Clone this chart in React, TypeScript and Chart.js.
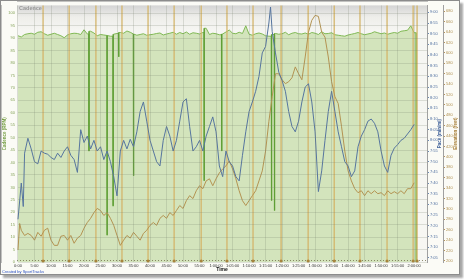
import React, { useEffect, useRef } from "react";
import { Chart, registerables } from "chart.js";

Chart.register(...registerables);

// ---- data (time in minutes) ----
const cadenceRpm = [
  91.0, 90.5, 91.5, 91.8, 92.0, 91.6, 92.4, 92.6, 91.8, 91.2,
  91.6, 92.0, 91.5, 91.0, 90.2, 91.3, 91.8, 92.0, 91.9, 91.5,
  93.4, 91.7, 92.8, 92.1, 91.0, 91.5, 91.3, 91.1, 90.8, 91.6,
  91.9, 92.3, 92.0, 92.9, 92.4, 91.7, 91.2, 91.5, 91.8, 91.2,
  91.4, 91.6, 91.9, 92.1, 91.3, 91.7, 92.0, 92.4, 91.6, 92.3,
  91.8, 92.5, 91.6, 92.2, 92.0, 91.7, 92.3, 94.0, 91.5, 92.0,
  91.8, 91.4, 91.7, 92.5, 93.3, 92.0, 91.8, 92.4, 91.9, 95.0,
  91.6, 91.2, 91.8, 92.1, 91.7, 91.0, 90.8, 91.5, 91.9, 91.6,
  91.8, 92.4, 91.4, 92.0, 92.3, 91.8, 91.7, 92.1, 91.6, 92.3,
  92.0, 91.5, 92.6, 91.8, 91.9, 92.2, 91.4, 91.2, 91.0, 90.8,
  91.3, 91.6, 91.9, 92.3, 91.8, 91.4, 91.7, 92.0, 92.6, 92.2,
  91.8, 92.1, 91.6, 92.0, 92.3, 92.0, 92.8, 93.0, 93.2, 95.0,
  92.2,
];
const cadenceEndMin = 120.6;

const spikeMin = [21.5, 27.0, 28.8, 30.5, 35.0, 56.4, 61.7, 76.8, 77.7];
const spikeRpm = [44.6, 10.8, 22.7, 82.5, 34.7, 32.7, 44.6, 24.7, 20.7];

const paceMin = [
  0, 1, 1.6, 2, 3, 4, 5, 6, 7, 8, 9, 10, 11, 12, 13, 14, 15, 16, 17, 18, 19, 20,
  21, 22, 23, 24, 25, 26, 27, 28, 29, 30, 31, 32, 33, 34, 35, 36, 37, 38, 39, 40,
  41, 42, 43, 44, 45, 46, 47, 48, 49, 50, 51, 52, 53, 54, 55, 56, 57, 58, 59, 60,
  61, 62, 63, 64, 65, 66, 67, 68, 69, 70, 71, 72, 73, 74, 75, 76, 76.5, 77, 78, 79, 80,
  81, 82, 83, 84, 85, 86, 87, 88, 89, 90, 91, 92, 93, 94, 95, 96, 97, 98, 99, 100,
  101, 102, 103, 104, 105, 106, 107, 108, 109, 110, 111, 112, 113, 114, 115, 116, 117, 118, 119, 120,
];
// pace in seconds per mile
const paceSec = [
  443, 460, 449, 474, 481, 476, 470, 469, 475, 474, 473.5, 472, 471, 474, 472, 475, 477, 473, 471, 465, 485, 479,
  482, 476, 480, 475, 477, 471, 475, 470, 463, 454, 475, 480, 476, 480.5, 477, 484, 493.5, 498, 489, 480,
  475, 470, 468, 480, 486.5, 482, 475, 480, 489, 498, 499.5, 486.5, 475, 477, 480, 475, 482, 486.5, 491, 484,
  468, 463, 475, 470, 468, 463, 461, 473, 484, 493.5, 498, 503, 510, 521, 524, 535, 542.5, 531, 521, 512, 508,
  503, 493.5, 486.5, 484, 489, 498, 505, 506.5, 498, 484, 456, 465.7, 480, 493.5, 503, 493.5, 484, 477, 470, 468,
  463, 465.7, 477, 482, 485, 489, 490, 488, 484, 475, 468, 465, 473, 476.4, 478, 480, 481, 483, 485, 487.5,
];

const elevMin = [
  0, 0.5, 1, 2, 3, 4, 5, 6, 7, 8, 9, 10, 11, 12, 13, 14, 15, 16, 17, 18, 19, 20,
  21, 22, 23, 24, 25, 26, 27, 28, 29, 30, 31, 32, 33, 34, 35, 36, 37, 38, 39, 40,
  41, 42, 43, 44, 45, 46, 47, 48, 49, 50, 51, 52, 53, 54, 55, 56, 57, 58, 59, 60,
  61, 62, 63, 64, 65, 66, 67, 68, 69, 70, 71, 72, 73, 74, 75, 76, 77, 78, 79, 80,
  81, 82, 83, 84, 85, 86, 87, 88, 89, 90, 91, 92, 93, 94, 95, 96, 97, 98, 99, 100,
  101, 102, 103, 104, 105, 106, 107, 108, 109, 110, 111, 112, 113, 114, 115, 116, 117, 118, 119, 120,
];
// elevation in feet
const elevFt = [
  221, 272, 259, 249, 253, 249, 240, 255, 247.5, 259, 263, 240, 230, 230, 247.5, 249, 240, 249, 234, 244, 249, 263,
  274, 282, 293, 301, 297, 287.5, 293, 282, 268.5, 249, 230, 240, 249, 244, 255, 247.5, 240, 253, 259, 268.5,
  274, 268.5, 282, 287.5, 282, 293, 287.5, 297, 306.6, 301, 316, 325.6, 320, 335, 344.7, 339, 354, 358, 344.7, 358,
  369.4, 377, 382.8, 392.3, 377, 358, 335, 316, 306.6, 316, 325.6, 335, 354, 373.2, 411.3, 468.5, 516, 560, 560, 548.5,
  541, 544.7, 552.3, 573.2, 560, 548.5, 592.3, 640, 662.8, 672.3, 670.4, 640, 630.4, 592.3, 544.7, 516, 502.8, 459, 411.3, 373.2,
  354, 339, 331.3, 335, 325.6, 335, 329.4, 335, 329.4, 331.3, 325.6, 335, 329.4, 333.2, 329.4, 335, 329.4, 339, 339, 350.4,
];

const lapMin = [7.6, 15.5, 23.6, 31.5, 39.4, 47.3, 55.5, 63.3, 71.2, 79.7, 87.9, 95.8, 103.6, 111.8, 119.7, 120.9];

// ---- formatting ----
const FONT = "'Liberation Sans', Arial, sans-serif";
const fmtTime = (v: number) => {
  const m = Math.round(v);
  if (m < 60) return `${m}:00`;
  const h = Math.floor(m / 60);
  return `${h}:${String(m % 60).padStart(2, "0")}:00`;
};
const fmtPace = (v: number) => {
  const s = Math.round(v);
  return `${Math.floor(s / 60)}:${String(s % 60).padStart(2, "0")}`;
};

type Pt = { x: number; y: number | null };

function spikePoints(): Pt[] {
  const pts: Pt[] = [];
  spikeMin.forEach((t, k) => {
    const prev = cadenceRpm[Math.floor(t)];
    const next = cadenceRpm[Math.min(Math.ceil(t), cadenceRpm.length - 1)];
    pts.push({ x: t - 0.03, y: prev });
    pts.push({ x: t, y: spikeRpm[k] });
    pts.push({ x: t + 0.03, y: next });
    pts.push({ x: t + 0.04, y: null });
  });
  return pts;
}

function buildCadence(): Pt[] {
  const pts: Pt[] = cadenceRpm.map((v, i) => ({ x: i, y: v }));
  spikePoints().forEach((p) => {
    if (p.y !== null) pts.push(p);
  });
  pts.push({ x: cadenceEndMin, y: cadenceRpm[cadenceRpm.length - 1] });
  pts.push({ x: cadenceEndMin + 0.05, y: 0 });
  pts.sort((a, b) => a.x - b.x);
  return pts;
}

const bgPlugin = {
  id: "bgPlugin",
  beforeDraw(chart: any) {
    const { ctx, chartArea: a, width, height } = chart;
    ctx.save();
    ctx.fillStyle = "#fbfbf6";
    ctx.fillRect(0, 0, width, height);
    const g = ctx.createLinearGradient(0, a.top, 0, a.bottom);
    g.addColorStop(0, "#d4d4d4");
    g.addColorStop(0.045, "#eeeeea");
    g.addColorStop(0.1, "#f6f6f3");
    g.addColorStop(1, "#f7f7f3");
    ctx.fillStyle = g;
    ctx.fillRect(a.left, a.top, a.right - a.left, a.bottom - a.top);
    ctx.restore();
  },
  afterDatasetDraw(chart: any, args: any) {
    if (args.index !== 3) return;
    const { ctx, chartArea: a, scales } = chart;
    ctx.save();
    ctx.strokeStyle = "rgba(110,105,70,0.75)";
    ctx.lineWidth = 1;
    ctx.setLineDash([1, 2]);
    ctx.beginPath();
    ctx.moveTo(a.left, a.bottom - 1.5);
    ctx.lineTo(a.right, a.bottom - 1.5);
    ctx.stroke();
    ctx.setLineDash([]);
    lapMin.forEach((t) => {
      const x = scales.x.getPixelForValue(t);
      ctx.strokeStyle = "rgba(212,180,105,0.85)";
      ctx.lineWidth = 1.5;
      ctx.beginPath();
      ctx.moveTo(x, a.top);
      ctx.lineTo(x, a.bottom);
      ctx.stroke();
      ctx.fillStyle = "#a8843c";
      ctx.beginPath();
      ctx.arc(x, a.bottom - 1, 1.6, 0, Math.PI * 2);
      ctx.fill();
    });
    ctx.restore();
  },
  afterDraw(chart: any) {
    const { ctx, chartArea: a, height } = chart;
    ctx.save();
    ctx.textBaseline = "middle";
    ctx.fillStyle = "#9a9a9a";
    ctx.font = `bold 5.5px ${FONT}`;
    ctx.textAlign = "left";
    ctx.fillText("Cadence", a.left + 2, a.top + 3);

    const midY = (a.top + a.bottom) / 2;
    const rot = (text: string, x: number, color: string) => {
      ctx.save();
      ctx.translate(x, midY);
      ctx.rotate(-Math.PI / 2);
      ctx.textAlign = "center";
      ctx.fillStyle = color;
      ctx.font = `bold 4.5px ${FONT}`;
      ctx.fillText(text, 0, 0);
      ctx.restore();
    };
    rot("Pace (min/mi)", 438.5, "#3d5f98");
    rot("Elevation (feet)", 454.5, "#a57c34");

    ctx.textAlign = "left";
    ctx.fillStyle = "#2b4fc2";
    ctx.font = `4px ${FONT}`;
    ctx.fillText("Created by SportTracks", 1, height - 1.8);
    ctx.restore();
  },
};

export default function App() {
  const ref = useRef<HTMLCanvasElement | null>(null);
  useEffect(() => {
    document.body.style.margin = "0";
    const canvas = ref.current!;
    const gridColor = "rgba(120,128,110,0.22)";
    const chart = new Chart(canvas, {
      type: "line",
      data: {
        datasets: [
          {
            label: "Pace",
            data: paceMin.map((t, i) => ({ x: t, y: paceSec[i] })),
            yAxisID: "yPace",
            borderColor: "#56759f",
            borderWidth: 1,
            pointRadius: 0,
            tension: 0,
            order: 1,
          },
          {
            label: "Elevation",
            data: elevMin.map((t, i) => ({ x: t, y: elevFt[i] })),
            yAxisID: "yElev",
            borderColor: "#b39352",
            borderWidth: 1,
            pointRadius: 0,
            tension: 0,
            order: 2,
          },
          {
            label: "Cadence drops",
            data: spikePoints(),
            yAxisID: "y",
            borderColor: "#5f9e36",
            borderWidth: 1.3,
            pointRadius: 0,
            tension: 0,
            spanGaps: false,
            fill: false,
            order: 3,
          },
          {
            label: "Cadence",
            data: buildCadence(),
            yAxisID: "y",
            borderColor: "#80b955",
            backgroundColor: "#d3e4bc",
            fill: "origin",
            borderWidth: 1,
            pointRadius: 0,
            tension: 0,
            order: 4,
          },
        ],
      },
      options: {
        animation: false,
        responsive: false,
        maintainAspectRatio: false,
        layout: { padding: { top: 2, left: 0, right: 0, bottom: 0 } },
        plugins: {
          legend: { display: false },
          tooltip: { enabled: false },
        },
        scales: {
          x: {
            type: "linear",
            min: -0.3,
            max: 123.9,
            afterFit: (s: any) => {
              s.height = 12;
            },
            grid: { color: gridColor, z: 1, drawTicks: false },
            border: { color: "#8a8a8a" },
            ticks: {
              stepSize: 5,
              autoSkip: false,
              maxRotation: 0,
              includeBounds: false,
              padding: 1,
              font: { size: 4, family: FONT },
              color: "#333333",
              callback: (v: any) => fmtTime(Number(v)),
            },
            title: {
              display: true,
              text: "Time",
              color: "#111111",
              font: { size: 5, weight: "bold", family: FONT },
              padding: { top: 0, bottom: 1 },
            },
          },
          y: {
            position: "left",
            min: 0,
            max: 103.2,
            afterFit: (s: any) => {
              s.width = 16;
            },
            grid: { color: gridColor, z: 1, drawTicks: false },
            border: { color: "#8a8a8a" },
            ticks: {
              stepSize: 5,
              autoSkip: false,
              includeBounds: false,
              padding: 2,
              font: { size: 4, family: FONT },
              color: "#86a45a",
            },
            title: {
              display: true,
              text: "Cadence (RPM)",
              color: "#78a048",
              font: { size: 4.5, weight: "bold", family: FONT },
              padding: 1,
            },
          },
          yPace: {
            position: "right",
            min: 423,
            max: 543.25,
            afterFit: (s: any) => {
              s.width = 16;
            },
            grid: { drawOnChartArea: false, drawTicks: true, tickLength: 2, color: "#6b8ab5" },
            border: { color: "#a0a0a0" },
            ticks: {
              stepSize: 5,
              autoSkip: false,
              includeBounds: false,
              padding: 1,
              font: { size: 4, family: FONT },
              color: "#4f6fa0",
              callback: (v: any) => fmtPace(Number(v)),
            },
          },
          yElev: {
            position: "right",
            min: 198,
            max: 691.5,
            afterFit: (s: any) => {
              s.width = 16;
            },
            grid: { drawOnChartArea: false, drawTicks: true, tickLength: 2, color: "#b8955a" },
            border: { color: "#a0a0a0" },
            ticks: {
              stepSize: 20,
              autoSkip: false,
              includeBounds: false,
              padding: 1,
              font: { size: 4, family: FONT },
              color: "#b0904f",
            },
          },
        },
      } as any,
      plugins: [bgPlugin],
    });
    return () => chart.destroy();
  }, []);

  return (
    <div
      style={{
        position: "absolute",
        left: 0,
        top: 0,
        width: 458,
        height: 273,
        border: "1px solid #8c8c8c",
        background: "#fbfbf6",
        boxShadow: "3px 3px 2px rgba(0,0,0,0.35)",
      }}
    >
      <canvas ref={ref} width={458} height={273} style={{ display: "block", width: 458, height: 273 }} />
    </div>
  );
}
